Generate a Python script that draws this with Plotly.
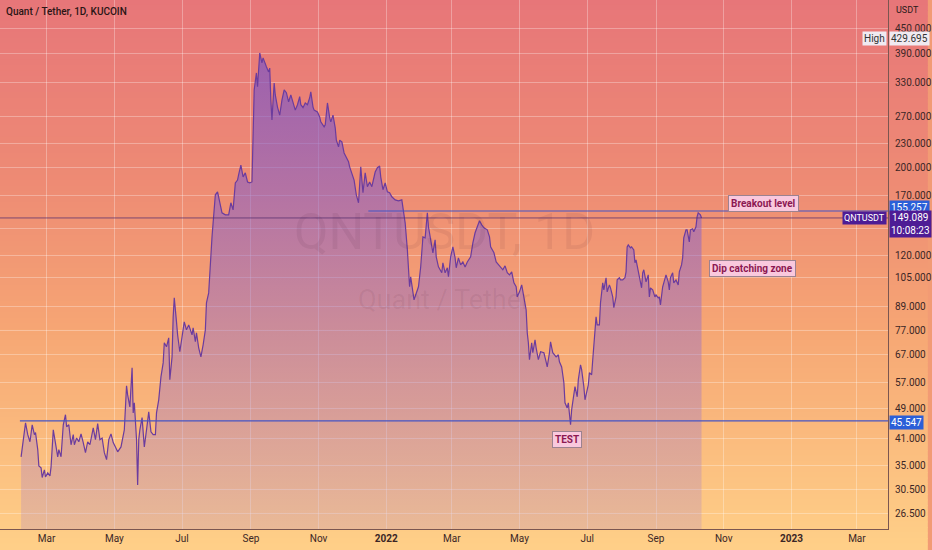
import numpy as np
import pandas as pd
import plotly.graph_objects as go

# QNT / USDT daily close (days counted from 2021-01-01)
days = [
    36, 38, 40, 42, 44, 46, 48, 49, 51, 52, 54, 55, 57, 58, 60, 62, 63, 65, 67, 69,
    70, 72, 74, 76, 77, 79, 81, 83, 84, 86, 88, 90, 92, 94, 96, 98, 101, 103, 105, 107,
    109, 111, 113, 115, 117, 119, 121, 123, 126, 128, 129, 131, 132, 134, 136, 137, 138, 140, 141, 142,
    143, 145, 147, 149, 151, 153, 155, 157, 158, 160, 162, 164, 165, 167, 169, 170, 172, 173, 174, 176,
    177, 179, 181, 183, 185, 187, 190, 191, 193, 194, 196, 198, 200, 202, 203, 205,
    208, 211, 213, 215, 217, 220, 223, 225, 227, 229, 231, 232, 234, 236, 238, 240, 242, 244, 246, 248,
    249, 251, 253, 254, 256, 257, 259, 260, 261, 262, 264, 265, 267, 269, 271, 273, 275, 277, 279, 281,
    283, 285, 287, 288, 290, 292, 294, 296, 297, 299, 300, 303, 305, 306, 309, 310, 312, 314, 315, 317,
    319, 320, 322, 323, 325, 327, 329, 331, 332, 334, 336, 338, 340, 342, 344, 346, 348, 350, 352, 355,
    357, 359, 360, 362, 364, 366, 368, 370, 373, 376, 379,
    382, 384, 386, 387, 390, 392, 394, 396, 398, 400, 402, 403, 405, 407, 409, 410, 412, 415, 416, 418,
    420, 421, 423, 425, 427, 428, 430, 432, 434, 436, 438, 441, 443, 445, 447, 449, 451, 453, 456, 458,
    459, 462, 464, 466, 468, 470, 472, 474, 476, 478, 480, 482, 483, 485, 487, 489, 491, 492, 493, 494,
    496, 497, 499, 500, 502, 504, 507, 509, 510, 512, 513, 515, 518, 520, 521, 523, 525, 526, 528, 529,
    531, 532, 534, 535, 537, 538, 540, 541, 543, 544, 545, 547, 548, 550, 551, 553, 554, 555, 557, 558,
    560, 561, 563, 564, 566, 567, 569, 570, 572, 573, 575, 576, 578, 580, 581, 582, 583, 585, 586, 588,
    589, 590, 592, 593, 595, 596, 597, 599, 601, 602, 603, 605, 607, 608, 610, 611, 612, 614, 616, 617,
    619, 620, 621, 623, 624, 626, 628, 629, 631, 632, 633, 635, 636, 638, 639, 641, 642, 644, 645, 646,
    648, 649,
]
close = [
    36.9, 41.5, 45.0, 42.0, 40.3, 44.5, 42.0, 42.5, 38.5, 35.0, 34.6, 32.7, 34.2, 32.8, 33.6, 33.0, 34.8, 43.2, 40.3, 36.9,
    38.5, 36.9, 44.5, 47.2, 44.0, 44.5, 39.6, 42.0, 39.6, 41.2, 40.3, 42.2, 40.1, 37.8, 40.3, 39.6, 43.7, 40.8, 44.8, 40.8,
    41.2, 37.8, 36.3, 40.8, 42.2, 40.1, 39.1, 38.0, 39.1, 41.5, 43.2, 55.9, 53.0, 49.4, 62.1, 47.7, 50.6, 40.8, 31.3, 40.8,
    43.2, 46.4, 39.1, 43.2, 48.0, 42.7, 42.0, 42.0, 47.7, 51.5, 58.9, 63.9, 71.9, 70.2, 74.0, 57.9, 66.2, 83.6, 93.5, 81.2,
    75.3, 68.2, 74.0, 81.2, 77.5, 79.8, 75.3, 78.4, 72.3, 76.2, 69.8, 66.2, 71.0, 77.5, 90.8, 96.2,
    133.5, 170.7, 173.7, 162.9, 153.6, 151.8, 151.8, 162.9, 156.3, 183, 186, 192, 203, 189.6, 194, 184, 183, 184, 315, 348,
    321, 391, 369, 380, 365, 361, 350, 358, 297, 264.5, 328, 306, 285, 272, 297, 315, 310, 294, 306, 294,
    280, 289, 303, 289, 284, 292, 289, 301, 311.5, 285, 280, 277, 269, 261.5, 254, 257, 292, 268, 261.5, 272,
    252.5, 235, 226, 235, 232.5, 218, 212, 207, 201, 194, 186, 170.7, 162.9, 201, 172.7, 194, 179, 184, 179, 195,
    200, 202, 189.6, 175.8, 183, 173.7, 172.7, 168.7, 165.7, 164.7, 165.7,
    144.9, 123.7, 99.7, 105.7, 92.4, 96.2, 99.7, 112, 133.5, 132.7, 153.6, 141.6, 131.2, 121.6, 131.2, 118.8, 112, 108.2, 114.7, 108.2,
    111.4, 105.7, 118.8, 125.9, 118.1, 111.4, 118.1, 113.3, 115.3, 112, 115.3, 118.8, 128.9, 136.7, 141.6, 146.6, 143.2, 140.7, 139.1, 133.5,
    125.9, 121.6, 115.3, 113.3, 112, 110.1, 112.7, 108.2, 106.9, 108.8, 102, 99.7, 94, 96.8, 100.8, 92.4, 87.1, 76.2, 71.9, 65.1,
    71.9, 67.8, 73.1, 69.8, 65.1, 68.2, 67.8, 64.3, 62.4, 67.8, 72.3, 67.8, 66.2, 67, 64.3, 62.4, 56.9, 50.6, 49.1, 50.6,
    44.5, 48.6, 53.6, 55.6, 52.4, 57.9, 63.2, 61.4, 55.6, 51.5, 53, 56.2, 60.3, 59.6, 65.1, 76.2, 83.6, 79.8, 79.8, 90.8,
    102, 97.9, 105.1, 96.8, 100.8, 99.1, 94, 88.2, 94, 103.8, 105.1, 103.8, 103.8, 105.1, 108.8, 125.9, 127.4, 125.2, 125.9, 123.7,
    114.7, 116.7, 110.1, 105.1, 99.1, 108.2, 110.1, 102.6, 106.9, 94, 99.1, 97.9, 94, 95.1, 93.5, 94, 89.7, 99.7, 103.8, 106.9,
    102.6, 97.9, 105.1, 108.2, 102, 103.8, 100.8, 108.8, 113.3, 118.1, 132.7, 139.1, 139.1, 129.6, 139.1, 139.9, 137.5, 141.6, 150, 153.6,
    151.8, 149.089,
]
assert len(days) == len(close)

# horizontal levels drawn on the chart
last_price = 149.089
breakout_level = 155.257
test_level = 45.547
high_price = 429.695

y_ticks = [26.5, 30.5, 35, 41, 49, 57, 67, 77, 89, 105, 120, 140, 170, 200, 230, 270, 330, 390, 450]
y_labels = ["" if v == 140 else f"{v:.3f}" for v in y_ticks]
x_ticks = ["2021-03-01", "2021-05-01", "2021-07-01", "2021-09-01", "2021-11-01", "2022-01-01",
           "2022-03-01", "2022-05-01", "2022-07-01", "2022-09-01", "2022-11-01", "2023-01-01", "2023-03-01"]
x_labels = ["Mar", "May", "Jul", "Sep", "Nov", "<b>2022</b>", "Mar", "May", "Jul", "Sep", "Nov", "<b>2023</b>", "Mar"]

dates = pd.Timestamp("2021-01-01") + pd.to_timedelta(days, unit="D")

W, H = 932, 550
PLOT_W, PLOT_H = 892, 529
FONT = "Roboto"

fig = go.Figure()

fig.add_trace(go.Scatter(
    x=dates, y=close, mode="lines",
    line=dict(color="#6b3c9e", width=1.2),
    fill="tozeroy",
    fillgradient=dict(type="vertical", start=24, stop=400,
                      colorscale=[[0, "rgba(160,120,210,0.22)"], [1, "rgba(125,85,195,0.72)"]]),
    hoverinfo="skip", showlegend=False,
))

# background gradient (red at top -> yellow at bottom), drawn as thin bands
stops = [(0.0, (231, 118, 121)), (0.35, (238, 140, 116)), (0.6, (246, 166, 116)), (1.0, (255, 208, 136))]


def grad_color(f):
    for (f0, c0), (f1, c1) in zip(stops[:-1], stops[1:]):
        if f <= f1:
            t = (f - f0) / (f1 - f0)
            return "rgb(%d,%d,%d)" % tuple(round(a + (b - a) * t) for a, b in zip(c0, c1))
    return "rgb(%d,%d,%d)" % stops[-1][1]


n_bands = 100
for i in range(n_bands):
    f0, f1 = i / n_bands, (i + 1) / n_bands
    fig.add_shape(type="rect", xref="paper", yref="paper", layer="below",
                  x0=0, x1=W / PLOT_W, y0=1 - f1 * H / PLOT_H, y1=1 - f0 * H / PLOT_H + 0.002,
                  fillcolor=grad_color((f0 + f1) / 2), line_width=0)

# price lines
fig.add_shape(type="line", xref="paper", yref="y", x0=0, x1=1, y0=last_price, y1=last_price,
              line=dict(color="rgba(85,45,110,0.75)", width=1))
fig.add_shape(type="line", xref="paper", yref="y", x0=370 / PLOT_W, x1=1, y0=breakout_level, y1=breakout_level,
              line=dict(color="#4455c4", width=1.2))
fig.add_shape(type="line", xref="paper", yref="y", x0=20 / PLOT_W, x1=1, y0=test_level, y1=test_level,
              line=dict(color="#4455c4", width=1.2))

ann = []
# watermark
ann.append(dict(text="QNTUSDT, 1D", xref="paper", yref="paper", x=0.5, y=1 - 232 / PLOT_H,
                xanchor="center", yanchor="middle", showarrow=False,
                font=dict(family=FONT, size=50, color="rgba(60,20,40,0.07)")))
ann.append(dict(text="Quant / Tether", xref="paper", yref="paper", x=0.5, y=1 - 300 / PLOT_H,
                xanchor="center", yanchor="middle", showarrow=False,
                font=dict(family=FONT, size=27, color="rgba(60,20,40,0.07)")))
# header
ann.append(dict(text="Quant / Tether, 1D, KUCOIN", xref="paper", yref="paper", x=0, y=1 - 12 / PLOT_H,
                xanchor="left", yanchor="middle", xshift=4, showarrow=False,
                font=dict(family=FONT, size=10, color="#2a1515", weight=500)))
ann.append(dict(text="USDT", xref="paper", yref="paper", x=1, y=1 - 10 / PLOT_H,
                xanchor="left", yanchor="middle", xshift=6, showarrow=False,
                font=dict(family=FONT, size=9, color="#2a1a1a")))

# right-hand price labels
def price_tag(text, value, bg, fg="white", xanchor="left", yshift=0, xshift=1, size=10):
    return dict(text=text, xref="paper", yref="y", x=1, y=np.log10(value), xanchor=xanchor,
                yanchor="middle", xshift=xshift, yshift=yshift, showarrow=False, bgcolor=bg, borderpad=1,
                font=dict(family=FONT, size=size, color=fg))


ann.append(price_tag("High", high_price, "rgba(240,240,248,0.95)", fg="#333", xanchor="right", xshift=-1, yshift=-2))
ann.append(price_tag("429.695", high_price, "rgba(240,240,248,0.95)", fg="#333", yshift=-2))
ann.append(price_tag("155.257", breakout_level, "#2b5fd8", yshift=4))
ann.append(price_tag("149.089<br>10:08:23", last_price, "#4e1c95", yshift=-6))
ann.append(price_tag("QNTUSDT", last_price, "#4e1c95", xanchor="right", xshift=-1, size=9))
ann.append(price_tag("45.547", test_level, "#2b5fd8", yshift=-2))

# drawn text boxes
def note(text, px, py):
    return dict(text=text, xref="paper", yref="paper", x=px / PLOT_W, y=1 - py / PLOT_H,
                xanchor="center", yanchor="middle", showarrow=False,
                bgcolor="#f9c8dd", bordercolor="#9c8290", borderwidth=1, borderpad=2,
                font=dict(family=FONT, size=10, color="#8c1852", weight="bold"))


ann.append(note("Breakout level", 767, 203))
ann.append(note("Dip catching zone", 756, 268))
ann.append(note("TEST", 570, 439))

grid = "rgba(255,255,255,0.30)"
axis_line = "#7b5650"
tick_font = dict(family=FONT, size=10, color="#3b2626")

fig.update_xaxes(range=["2021-01-18", "2023-03-29"], tickvals=x_ticks, ticktext=x_labels,
                 showgrid=True, gridcolor=grid, gridwidth=1, zeroline=False,
                 showline=True, linecolor=axis_line, linewidth=1, ticks="", tickfont=tick_font)
fig.update_yaxes(type="log", range=[np.log10(24.2), np.log10(533)], side="right",
                 tickvals=y_ticks, ticktext=y_labels, showgrid=True, gridcolor=grid, gridwidth=1,
                 zeroline=False, showline=True, linecolor=axis_line, linewidth=1, ticks="",
                 tickfont=tick_font, ticklabelstandoff=4)

fig.update_layout(
    width=W, height=H,
    margin=dict(l=0, r=W - PLOT_W, t=0, b=H - PLOT_H),
    paper_bgcolor="rgb(242,155,116)",
    plot_bgcolor="rgba(0,0,0,0)",
    showlegend=False,
    annotations=ann,
    font=dict(family=FONT),
)

# the page is photographed at exactly the figure size, so drop the browser's body margin
fig.write_html("out.html", config={"displayModeBar": False},
               post_script="document.body.style.margin='0';document.body.style.overflow='hidden';")
